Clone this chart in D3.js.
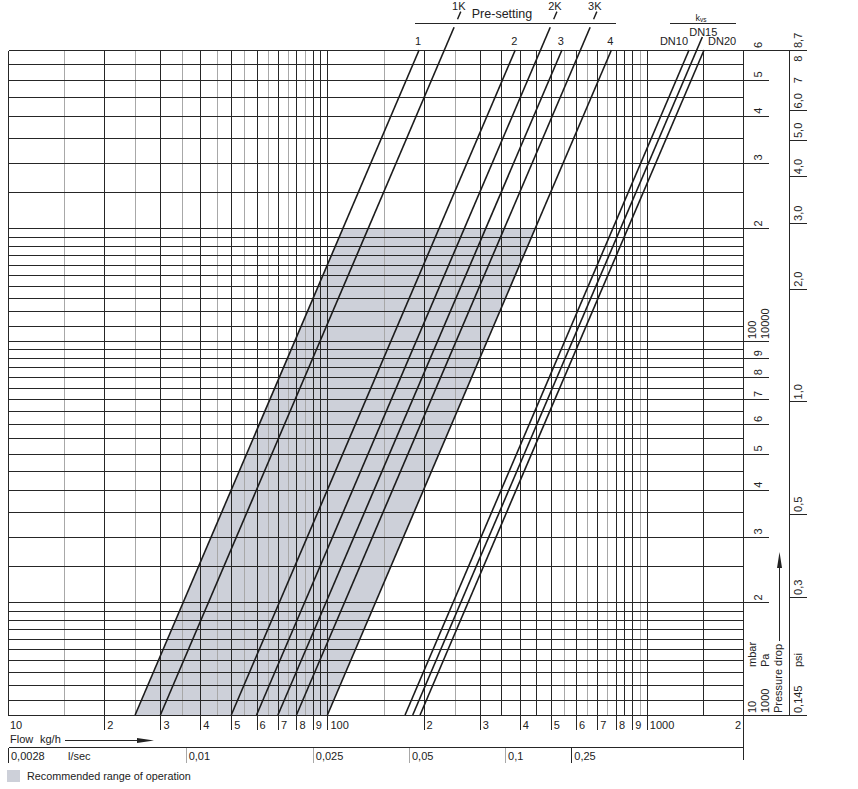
<!DOCTYPE html>
<html><head><meta charset="utf-8">
<script src="https://cdn.jsdelivr.net/npm/d3@7"></script>
<style>
body{margin:0;background:#fff;}
text{font-family:"Liberation Sans",Arial,Helvetica,sans-serif;fill:#222;}
</style>
</head><body>
<svg id="chart" width="858" height="789"></svg>
<script>
// ---------- DATA ----------
const flowDomain = [10, 2000];          // kg/h
const pressureDomain = [10, 600];       // mbar
const flowGridDark = [20,30,40,50,60,70,80,90,95,100,200,300,350,400,450,500,600,700,800,850,900,1000,1500];
const flowGridLight = [15,25,35,45,55,65,75,85,150,250,550,650,750,950];
const pressureGrid = [11,12,13,14,15,16,17,18,19,20,25,30,35,40,45,50,55,60,65,70,75,80,85,90,95,100,
                      110,120,130,140,150,160,170,180,190,200,250,300,350,400,450,500,550];
const flowTicks = [20,30,40,50,60,70,80,90,100,200,300,400,500,600,700,800,900,1000];
const flowTickText = ["2","3","4","5","6","7","8","9","100","2","3","4","5","6","7","8","9","1000"];
const lsecText = ["0,0028","0,01","0,025","0,05","0,1","0,25"];
const lsecFlow = [10,36,90,180,360,580];
const lsecDark = [true,false,false,false,false,true];
const mbarTicks = [20,30,40,50,60,70,80,90,100,200,300,400,500];
const mbarTickText = ["2","3","4","5","6","7","8","9","100","2","3","4","5"];
const psiValues = [8.7,8,7,6,5,4,3,2,1,0.5,0.3,0.145];
const psiText = ["8,7","8","7","6,0","5,0","4,0","3,0","2,0","1,0","0,5","0,3","0,145"];
const psiTickLines = [6,5,4,3,2,1,0.5,0.3];
const mbarPerPsi = 68.95;
const presetNames = ["1","2","3","4"];
const presetKv = [0.25,0.5,0.7,1.0];
const presetKNames = ["1K","2K","3K"];
const presetKKv = [0.3,0.6,0.8];
const dnNames = ["DN10","DN15","DN20"];
const dnKv = [1.75,1.85,1.95];
const dnTop = [600,650,600];
const rangeKv = [0.25,1.0];
const rangePressure = [10,200];

// ---------- SCALES ----------
const svg = d3.select("#chart");
const x = d3.scaleLog().domain(flowDomain).range([8,743]);
const y = d3.scaleLog().domain(pressureDomain).range([715,50]);
const flowAt = (kv,p) => kv*1000*Math.sqrt(p/1000);
const cx = v => Math.round(x(v))+0.5;
const cy = v => Math.round(y(v))+0.5;
const DARK = "#262626", LIGHT = "#a8a8a8", SHADE = "#cdd0d9";

// ---------- RECOMMENDED RANGE ----------
const poly = [
  [flowAt(rangeKv[0],rangePressure[0]),rangePressure[0]],
  [flowAt(rangeKv[0],rangePressure[1]),rangePressure[1]],
  [flowAt(rangeKv[1],rangePressure[1]),rangePressure[1]],
  [flowAt(rangeKv[1],rangePressure[0]),rangePressure[0]]
];
svg.append("path").attr("d", d3.line().x(d=>x(d[0])).y(d=>y(d[1]))(poly)+"Z")
  .attr("fill",SHADE).attr("stroke","none");

// ---------- GRID ----------
const grid = svg.append("g").attr("shape-rendering","crispEdges");
grid.selectAll(".vl").data(flowGridLight).join("line")
  .attr("x1",d=>cx(d)).attr("x2",d=>cx(d)).attr("y1",cy(600)).attr("y2",cy(10))
  .attr("stroke",LIGHT).attr("stroke-width",1);
grid.selectAll(".vd").data(flowGridDark).join("line")
  .attr("x1",d=>cx(d)).attr("x2",d=>cx(d)).attr("y1",cy(600)).attr("y2",cy(10))
  .attr("stroke",DARK).attr("stroke-width",1);
grid.selectAll(".h").data(pressureGrid).join("line")
  .attr("x1",cx(10)).attr("x2",cx(2000)).attr("y1",d=>cy(d)).attr("y2",d=>cy(d))
  .attr("stroke",DARK).attr("stroke-width",1);
// borders
grid.append("line").attr("x1",cx(10)).attr("x2",807).attr("y1",cy(600)).attr("y2",cy(600)).attr("stroke",DARK);
grid.append("line").attr("x1",cx(10)).attr("x2",807).attr("y1",cy(10)).attr("y2",cy(10)).attr("stroke",DARK);
grid.append("line").attr("x1",cx(10)).attr("x2",cx(10)).attr("y1",cy(600)).attr("y2",cy(10)).attr("stroke",DARK);
grid.append("line").attr("x1",cx(2000)).attr("x2",cx(2000)).attr("y1",cy(600)).attr("y2",760).attr("stroke",DARK);
// psi axis line
grid.append("line").attr("x1",789.5).attr("x2",789.5).attr("y1",cy(600)).attr("y2",cy(10)).attr("stroke",DARK);

// ---------- CHARACTERISTIC LINES ----------
const lineGen = d3.line().x(d=>x(d[0])).y(d=>y(d[1]));
function seg(kv,p0,p1){
  return svg.append("path").attr("d",lineGen([[flowAt(kv,p0),p0],[flowAt(kv,p1),p1]]))
    .attr("stroke","#1c1c1c").attr("stroke-width",1.6).attr("fill","none");
}
presetKv.forEach((kv,i)=>{
  seg(kv,10,600);
  svg.append("text").attr("x",x(flowAt(kv,600))-1).attr("y",45).attr("text-anchor","middle")
    .attr("font-size",11).text(presetNames[i]);
});
presetKKv.forEach((kv,i)=>{
  seg(kv,10,690);
  seg(kv,725,760).attr("stroke-width",1.4);
  svg.append("text").attr("x",x(flowAt(kv,760))-2).attr("y",10).attr("text-anchor","middle")
    .attr("font-size",11).text(presetKNames[i]);
});
dnKv.forEach((kv,i)=>{ seg(kv,10,dnTop[i]); });
svg.append("text").attr("x",x(flowAt(dnKv[0],600))-1).attr("y",45).attr("text-anchor","end").attr("font-size",11).text(dnNames[0]);
svg.append("text").attr("x",x(flowAt(dnKv[1],650))+1).attr("y",36).attr("text-anchor","middle").attr("font-size",11).text(dnNames[1]);
svg.append("text").attr("x",x(flowAt(dnKv[2],600))+4).attr("y",45).attr("text-anchor","start").attr("font-size",11).text(dnNames[2]);

// header rules and titles
svg.append("line").attr("x1",415).attr("x2",616).attr("y1",23.5).attr("y2",23.5).attr("stroke",DARK);
svg.append("text").attr("x",502).attr("y",18).attr("text-anchor","middle").attr("font-size",12.5).text("Pre-setting");
svg.append("line").attr("x1",670).attr("x2",736).attr("y1",23.5).attr("y2",23.5).attr("stroke",DARK);
const kvs = svg.append("text").attr("x",701).attr("y",21).attr("text-anchor","middle").attr("font-size",9);
kvs.append("tspan").text("k");
kvs.append("tspan").attr("font-size",6.5).attr("dy",1).text("vs");

// ---------- BOTTOM AXIS ----------
const bot = svg.append("g");
bot.selectAll(".bt").data(flowTicks).join("line").attr("shape-rendering","crispEdges")
  .attr("x1",d=>cx(d)).attr("x2",d=>cx(d)).attr("y1",715).attr("y2",730).attr("stroke",DARK);
bot.selectAll(".btl").data(flowTicks).join("text")
  .attr("x",d=>x(d)+3).attr("y",729).attr("font-size",11).text((d,i)=>flowTickText[i]);
bot.append("text").attr("x",x(10)+2).attr("y",729).attr("font-size",11).text("10");
bot.append("text").attr("x",x(2000)-2).attr("y",729).attr("text-anchor","end").attr("font-size",11).text("2");
bot.append("text").attr("x",10).attr("y",743).attr("font-size",11).text("Flow");
bot.append("text").attr("x",40).attr("y",743).attr("font-size",11).text("kg/h");
bot.append("line").attr("x1",65).attr("x2",140).attr("y1",740.5).attr("y2",740.5).attr("stroke",DARK);
bot.append("path").attr("d","M137,738 L154,740.5 L137,743 Z").attr("fill","#222");
bot.append("line").attr("shape-rendering","crispEdges").attr("x1",cx(10)).attr("x2",cx(2000)).attr("y1",747.5).attr("y2",747.5).attr("stroke",DARK);
bot.selectAll(".lt").data(lsecFlow).join("line").attr("shape-rendering","crispEdges")
  .attr("x1",d=>cx(d)).attr("x2",d=>cx(d)).attr("y1",748).attr("y2",763)
  .attr("stroke",(d,i)=>lsecDark[i]?DARK:LIGHT).attr("stroke-width",(d,i)=>lsecDark[i]?1:1.5);
bot.selectAll(".ltl").data(lsecFlow).join("text")
  .attr("x",d=>x(d)+3).attr("y",760).attr("font-size",11).text((d,i)=>lsecText[i]);
bot.append("text").attr("x",68).attr("y",760).attr("font-size",11).text("l/sec");

// legend
svg.append("rect").attr("x",7).attr("y",770).attr("width",13).attr("height",12).attr("fill",SHADE);
svg.append("text").attr("x",27).attr("y",780).attr("font-size",10.8).text("Recommended range of operation");

// ---------- RIGHT AXES ----------
const right = svg.append("g");
function vlabel(xp, ystart, txt, size){
  right.append("text").attr("transform",`translate(${xp},${ystart}) rotate(-90)`)
    .attr("dy","0.35em").attr("font-size",size||11).text(txt);
}
right.selectAll(".mt").data(mbarTicks).join("line").attr("shape-rendering","crispEdges")
  .attr("x1",cx(2000)).attr("x2",769).attr("y1",d=>cy(d)).attr("y2",d=>cy(d)).attr("stroke",DARK);
mbarTicks.forEach((p,i)=>{
  if (p===100){ vlabel(752.5, y(p)-2, "100"); vlabel(765, y(p)-2, "10000"); }
  else vlabel(758.5, y(p)-2, mbarTickText[i]);
});
vlabel(758, y(600)-2, "6");
vlabel(752.5, y(10)-2, "10");
vlabel(765, y(10)-2, "1000");
vlabel(752.5, 667, "mbar");
vlabel(765, 667, "Pa");
vlabel(778.5, y(10)-2, "Pressure drop");
right.append("line").attr("x1",779.5).attr("x2",779.5).attr("y1",641).attr("y2",566).attr("stroke",DARK);
right.append("path").attr("d","M777,568 L779.5,552 L782,568 Z").attr("fill","#222");

right.selectAll(".pt").data(psiTickLines).join("line").attr("shape-rendering","crispEdges")
  .attr("x1",789).attr("x2",807).attr("y1",d=>cy(d*mbarPerPsi)).attr("y2",d=>cy(d*mbarPerPsi)).attr("stroke",DARK);
psiValues.forEach((v,i)=>{ vlabel(798, y(v*mbarPerPsi)-2, psiText[i]); });
vlabel(798, 667, "psi");
</script>
</body></html>
